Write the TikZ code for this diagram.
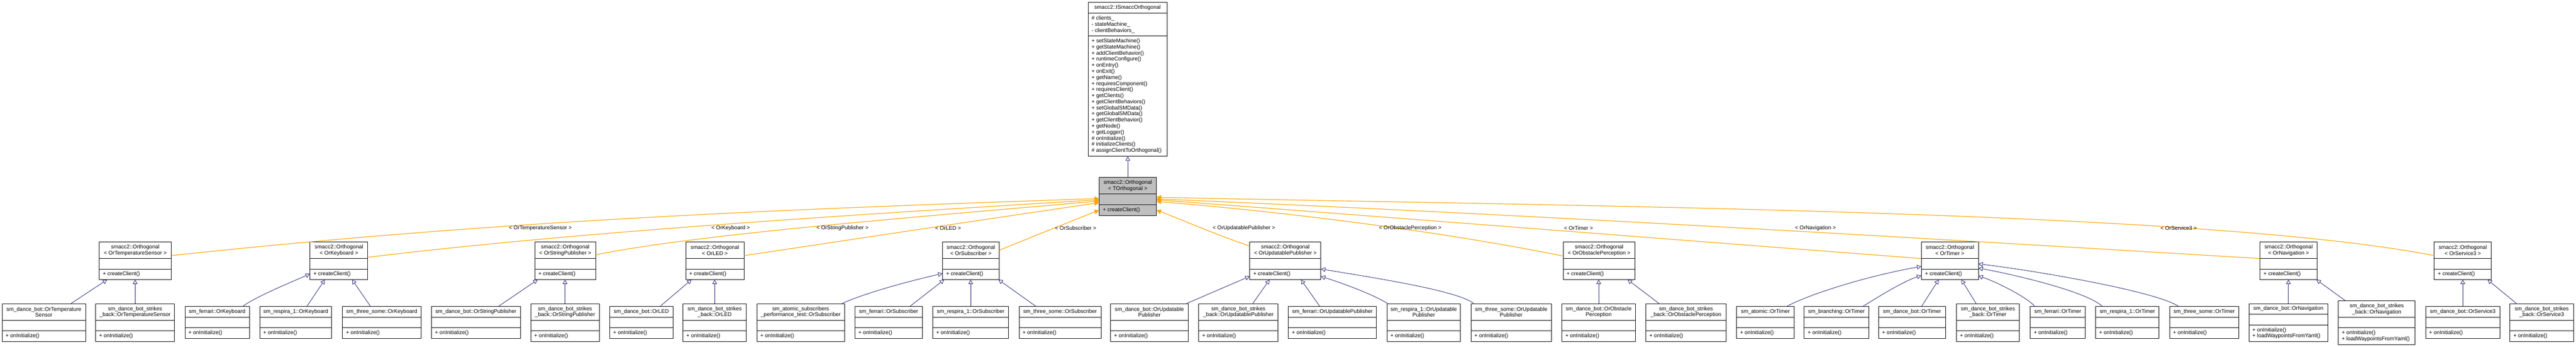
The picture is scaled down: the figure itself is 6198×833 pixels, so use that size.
\documentclass[tikz,border=0pt]{standalone}
\usepackage{fontspec}
\setmainfont{Liberation Sans}
\usetikzlibrary{arrows.meta,calc,fit}
\definecolor{navyc}{HTML}{191970}
\definecolor{orangec}{HTML}{FFA500}
\definecolor{grayc}{HTML}{BFBFBF}
\tikzset{
  clsbox/.style={draw=black, line width=0.6pt, inner sep=0pt, fill=white},
  clsline/.style={draw=black, line width=0.6pt},
  clstxt/.style={inner sep=0pt, font=\fontsize{6.5}{7.3}\selectfont, text=black},
  inh/.style={draw=navyc, line width=0.5pt, -{Triangle[open, length=5pt, width=5.5pt]}},
  tmpl/.style={draw=orangec, line width=0.75pt, -{Triangle[length=5.5pt, width=5.5pt, fill=orangec]}},
  lbl/.style={clstxt}
}
% #1 name, #2 x1, #3 x2, #4 ytop, #5 header h, #6 empty h, #7 methods h, #8 header, #9 methods
\newcommand{\umlcls}[9]{%
  \node[clsbox, fit={(#2,#4) (#3,#4+#5+#6+#7)}] (#1) {};
  \draw[clsline] (#2,#4+#5) -- (#3,#4+#5);
  \draw[clsline] (#2,#4+#5+#6) -- (#3,#4+#5+#6);
  \node[clstxt, align=center] (#1h) at ({(#2+#3)/2},{#4+#5/2}) {#8};
  \node[clstxt, align=left, anchor=west] (#1m) at (#2+8,{#4+#5+#6+#7/2}) {#9};
}
\begin{document}
\begin{tikzpicture}[x=0.5pt,y=-0.5pt]
\fill[white] (0,0) rectangle (6198,833);
\useasboundingbox (0,0) rectangle (6198,833);

% ---------- base class ----------
\node[clsbox, fit={(2618,5) (2808,375)}] (ISO) {};
\draw[clsline] (2618,32) -- (2808,32);
\draw[clsline] (2618,86) -- (2808,86);
\node[clstxt] (ISOh) at (2713,18.5) {smacc2::ISmaccOrthogonal};
\node[clstxt, align=left, anchor=west] (ISOa) at (2626,59) {\# clients\_\\- stateMachine\_\\- clientBehaviors\_};
\node[clstxt, align=left, anchor=west] (ISOm) at (2626,230.5) {+ setStateMachine()\\+ getStateMachine()\\+ addClientBehavior()\\+ runtimeConfigure()\\+ onEntry()\\+ onExit()\\+ getName()\\+ requiresComponent()\\+ requiresClient()\\+ getClients()\\+ getClientBehaviors()\\+ setGlobalSMData()\\+ getGlobalSMData()\\+ getClientBehavior()\\+ getNode()\\+ getLogger()\\\# onInitialize()\\\# initializeClients()\\\# assignClientToOrthogonal()};

% ---------- template class ----------
\begin{scope}[clsbox/.append style={fill=grayc}]
\umlcls{TO}{2645}{2782}{426}{40}{25}{26}{smacc2::Orthogonal\\< TOrthogonal >}{+ createClient()}
\end{scope}

% ---------- instantiations ----------
\umlcls{TS}{239}{412}{581}{40}{25}{25}{smacc2::Orthogonal\\< OrTemperatureSensor >}{+ createClient()}
\umlcls{KB}{746}{885}{581}{40}{25}{25}{smacc2::Orthogonal\\< OrKeyboard >}{+ createClient()}
\umlcls{SP}{1287}{1433}{581}{40}{25}{25}{smacc2::Orthogonal\\< OrStringPublisher >}{+ createClient()}
\umlcls{LED}{1650}{1790}{581}{40}{25}{25}{smacc2::Orthogonal\\< OrLED >}{+ createClient()}
\umlcls{SUB}{2268}{2404}{581}{40}{25}{25}{smacc2::Orthogonal\\< OrSubscriber >}{+ createClient()}
\umlcls{UP}{3007}{3178}{581}{40}{25}{25}{smacc2::Orthogonal\\< OrUpdatablePublisher >}{+ createClient()}
\umlcls{OP}{3761}{3934}{581}{40}{25}{25}{smacc2::Orthogonal\\< OrObstaclePerception >}{+ createClient()}
\umlcls{TM}{4623}{4760}{581}{40}{25}{25}{smacc2::Orthogonal\\< OrTimer >}{+ createClient()}
\umlcls{NAV}{5438}{5575}{581}{40}{25}{25}{smacc2::Orthogonal\\< OrNavigation >}{+ createClient()}
\umlcls{S3}{5857}{5994}{581}{40}{25}{25}{smacc2::Orthogonal\\< OrService3 >}{+ createClient()}

% ---------- leaves ----------
\umlcls{dbTS}{5}{206}{729}{40}{25}{26}{sm\_dance\_bot::OrTemperature\\Sensor}{+ onInitialize()}
\umlcls{dbsbTS}{230}{420}{729}{40}{25}{26}{sm\_dance\_bot\_strikes\\\_back::OrTemperatureSensor}{+ onInitialize()}
\umlcls{ferKB}{445}{600}{736}{26}{25}{25}{sm\_ferrari::OrKeyboard}{+ onInitialize()}
\umlcls{resKB}{625}{798}{736}{26}{25}{25}{sm\_respira\_1::OrKeyboard}{+ onInitialize()}
\umlcls{tsKB}{824}{1013}{736}{26}{25}{25}{sm\_three\_some::OrKeyboard}{+ onInitialize()}
\umlcls{dbSP}{1038}{1252}{736}{26}{25}{25}{sm\_dance\_bot::OrStringPublisher}{+ onInitialize()}
\umlcls{dbsbSP}{1277}{1442}{729}{40}{25}{26}{sm\_dance\_bot\_strikes\\\_back::OrStringPublisher}{+ onInitialize()}
\umlcls{dbLED}{1467}{1619}{736}{26}{25}{25}{sm\_dance\_bot::OrLED}{+ onInitialize()}
\umlcls{dbsbLED}{1643}{1796}{729}{40}{25}{26}{sm\_dance\_bot\_strikes\\\_back::OrLED}{+ onInitialize()}
\umlcls{atSUB}{1821}{2032}{729}{40}{25}{26}{sm\_atomic\_subscribers\\\_performance\_test::OrSubscriber}{+ onInitialize()}
\umlcls{ferSUB}{2057}{2219}{736}{26}{25}{25}{sm\_ferrari::OrSubscriber}{+ onInitialize()}
\umlcls{resSUB}{2244}{2427}{736}{26}{25}{25}{sm\_respira\_1::OrSubscriber}{+ onInitialize()}
\umlcls{tsSUB}{2452}{2649}{736}{26}{25}{25}{sm\_three\_some::OrSubscriber}{+ onInitialize()}
\umlcls{dbUP}{2672}{2859}{729}{40}{25}{26}{sm\_dance\_bot::OrUpdatable\\Publisher}{+ onInitialize()}
\umlcls{dbsbUP}{2884}{3075}{729}{40}{25}{26}{sm\_dance\_bot\_strikes\\\_back::OrUpdatablePublisher}{+ onInitialize()}
\umlcls{ferUP}{3100}{3312}{736}{26}{25}{25}{sm\_ferrari::OrUpdatablePublisher}{+ onInitialize()}
\umlcls{resUP}{3337}{3514}{729}{40}{25}{26}{sm\_respira\_1::OrUpdatable\\Publisher}{+ onInitialize()}
\umlcls{tsUP}{3539}{3733}{729}{40}{25}{26}{sm\_three\_some::OrUpdatable\\Publisher}{+ onInitialize()}
\umlcls{dbOP}{3758}{3935}{729}{40}{25}{26}{sm\_dance\_bot::OrObstacle\\Perception}{+ onInitialize()}
\umlcls{dbsbOP}{3960}{4153}{729}{40}{25}{26}{sm\_dance\_bot\_strikes\\\_back::OrObstaclePerception}{+ onInitialize()}
\umlcls{atTM}{4178}{4317}{736}{26}{25}{25}{sm\_atomic::OrTimer}{+ onInitialize()}
\umlcls{brTM}{4341}{4496}{736}{26}{25}{25}{sm\_branching::OrTimer}{+ onInitialize()}
\umlcls{dbTM}{4520}{4681}{736}{26}{25}{25}{sm\_dance\_bot::OrTimer}{+ onInitialize()}
\umlcls{dbsbTM}{4707}{4859}{729}{40}{25}{26}{sm\_dance\_bot\_strikes\\\_back::OrTimer}{+ onInitialize()}
\umlcls{ferTM}{4885}{5017}{736}{26}{25}{25}{sm\_ferrari::OrTimer}{+ onInitialize()}
\umlcls{resTM}{5042}{5195}{736}{26}{25}{25}{sm\_respira\_1::OrTimer}{+ onInitialize()}
\umlcls{tsTM}{5220}{5387}{736}{26}{25}{25}{sm\_three\_some::OrTimer}{+ onInitialize()}
\umlcls{dbNAV}{5411}{5601}{729}{25}{26}{40}{sm\_dance\_bot::OrNavigation}{+ onInitialize()\\+ loadWaypointsFromYaml()}
\umlcls{dbsbNAV}{5626}{5811}{722}{40}{25}{40}{sm\_dance\_bot\_strikes\\\_back::OrNavigation}{+ onInitialize()\\+ loadWaypointsFromYaml()}
\umlcls{dbSS}{5836}{6015}{736}{26}{25}{25}{sm\_dance\_bot::OrService3}{+ onInitialize()}
\umlcls{dbsbSS}{6039}{6192}{729}{40}{25}{26}{sm\_dance\_bot\_strikes\\\_back::OrService3}{+ onInitialize()}

% ---------- inheritance: template -> base ----------
\draw[inh] (TO.north) -- (TO.north |- ISO.south);

% ---------- inheritance: leaves -> instantiations ----------
\draw[inh] ($(dbTS.north west)+(167,0)$) -- ($(TS.south west)+(19,0)$);
\draw[inh] (dbsbTS.north) -- (dbsbTS.north |- TS.south);
\draw[inh] ($(ferKB.north west)+(140,0)$) .. controls (612,714) and (690,682) .. ($(KB.south west)+(0,-14)$);
\draw[inh] ($(resKB.north west)+(114,0)$) -- ($(KB.south west)+(36,0)$);
\draw[inh] ($(tsKB.north west)+(68,0)$) -- ($(KB.south west)+(102,0)$);
\draw[inh] ($(dbSP.north west)+(162,0)$) -- ($(SP.south west)+(7,0)$);
\draw[inh] (dbsbSP.north) -- (dbsbSP.north |- SP.south);
\draw[inh] ($(dbLED.north west)+(122,0)$) -- ($(LED.south west)+(14,0)$);
\draw[inh] (dbsbLED.north) -- (dbsbLED.north |- LED.south);
\draw[inh] ($(atSUB.north west)+(206,0)$) .. controls (2090,700) and (2200,672) .. ($(SUB.south west)+(0,-15)$);
\draw[inh] ($(ferSUB.north west)+(133,0)$) -- ($(SUB.south west)+(4,0)$);
\draw[inh] (resSUB.north) -- (resSUB.north |- SUB.south);
\draw[inh] ($(tsSUB.north west)+(41,0)$) -- ($(SUB.south east)+(-2,0)$);
\draw[inh] ($(dbUP.north west)+(184,0)$) -- ($(UP.south west)+(0,-8)$);
\draw[inh] ($(dbsbUP.north west)+(131,0)$) -- ($(UP.south west)+(48,0)$);
\draw[inh] ($(ferUP.north west)+(76,0)$) -- ($(UP.south west)+(124,0)$);
\draw[inh] ($(resUP.north west)+(2,0)$) .. controls (3300,705) and (3230,680) .. ($(UP.south east)+(0,-8)$);
\draw[inh] ($(tsUP.north west)+(7,0)$) .. controls (3505,695) and (3260,660) .. ($(UP.south east)+(0,-26)$);
\draw[inh] (dbOP.north) -- (dbOP.north |- OP.south);
\draw[inh] ($(dbsbOP.north west)+(32,0)$) -- ($(OP.south west)+(156,0)$);
\draw[inh] ($(atTM.north west)+(122,0)$) .. controls (4345,710) and (4480,665) .. ($(TM.south west)+(0,-32)$);
\draw[inh] ($(brTM.north west)+(142,0)$) .. controls (4520,712) and (4580,675) .. ($(TM.south west)+(0,-10)$);
\draw[inh] ($(dbTM.north west)+(104,0)$) -- ($(TM.south west)+(42,0)$);
\draw[inh] ($(dbsbTM.north west)+(48,0)$) -- ($(TM.south west)+(97,0)$);
\draw[inh] ($(ferTM.north west)+(11,0)$) .. controls (4880,715) and (4800,675) .. ($(TM.south east)+(0,-9)$);
\draw[inh] ($(resTM.north west)+(17,0)$) .. controls (5020,700) and (4850,660) .. ($(TM.south east)+(0,-28)$);
\draw[inh] ($(tsTM.north west)+(22,0)$) .. controls (5190,700) and (4900,650) .. ($(TM.south east)+(0,-38)$);
\draw[inh] (dbNAV.north) -- (dbNAV.north |- NAV.south);
\draw[inh] ($(dbsbNAV.north west)+(17,0)$) -- ($(NAV.south east)+(-2,0)$);
\draw[inh] (dbSS.north) -- (dbSS.north |- S3.south);
\draw[inh] ($(dbsbSS.north west)+(16,0)$) -- ($(S3.south west)+(129,0)$);

% ---------- template instantiation edges ----------
\draw[tmpl] ($(TS.south east)+(0,-58)$) .. controls (1192,530) and (1865,503) .. ($(TO.south west)+(0,-41)$);
\draw[tmpl] ($(KB.south east)+(0,-54)$) .. controls (1385,557) and (2045,516) .. ($(TO.south west)+(0,-38)$);
\draw[tmpl] ($(SP.south east)+(0,-60)$) .. controls (1683,561) and (2245,518) .. ($(TO.south west)+(0,-35)$);
\draw[tmpl] ($(LED.south east)+(0,-58)$) .. controls (2070,572) and (2360,528) .. ($(TO.south west)+(0,-31)$);
\draw[tmpl] ($(SUB.south east)+(0,-71)$) .. controls (2480,570) and (2580,530) .. ($(TO.south west)+(0,-13)$);
\draw[tmpl] ($(UP.south west)+(0,-81)$) .. controls (2930,565) and (2850,530) .. ($(TO.south east)+(0,-13)$);
\draw[tmpl] ($(OP.south west)+(0,-57)$) .. controls (3461,554) and (3082,508) .. ($(TO.south east)+(0,-34)$);
\draw[tmpl] ($(TM.south west)+(0,-51)$) .. controls (4000,573) and (3400,526) .. ($(TO.south east)+(0,-38)$);
\draw[tmpl] ($(NAV.south west)+(0,-51)$) .. controls (4560,568) and (3660,514) .. ($(TO.south east)+(0,-40)$);
\draw[tmpl] ($(S3.south west)+(0,-58)$) .. controls (5300,505) and (3782,495) .. ($(TO.south east)+(0,-44)$);

% ---------- edge labels ----------
\node[lbl] (lTS) at (1300,548) {< OrTemperatureSensor >};
\node[lbl] (lKB) at (1758,548) {< OrKeyboard >};
\node[lbl] (lSP) at (2027,548) {< OrStringPublisher >};
\node[lbl] (lLED) at (2281,548) {< OrLED >};
\node[lbl] (lSUB) at (2588,548) {< OrSubscriber >};
\node[lbl] (lUP) at (2993,548) {< OrUpdatablePublisher >};
\node[lbl] (lOP) at (3393,548) {< OrObstaclePerception >};
\node[lbl] (lTM) at (3798,548) {< OrTimer >};
\node[lbl] (lNAV) at (4368,548) {< OrNavigation >};
\node[lbl] (lS3) at (5242,548) {< OrService3 >};
\end{tikzpicture}
\end{document}
